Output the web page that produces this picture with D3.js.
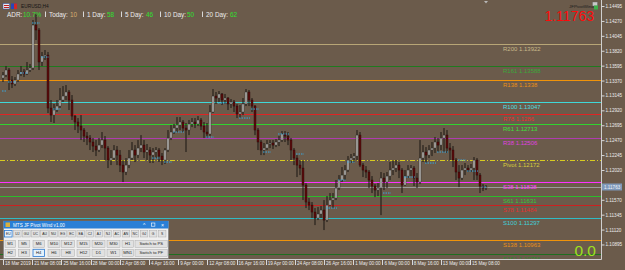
<!DOCTYPE html>
<html><head><meta charset="utf-8">
<script src="https://cdn.jsdelivr.net/npm/d3@7"></script>
<style>html,body{margin:0;padding:0;background:#6b5b4b;overflow:hidden}svg{display:block}text{font-family:"Liberation Sans",Arial,sans-serif}</style>
</head><body><svg id="c" width="625" height="270"></svg>
<script>
// ---------------- DATA ----------------
const symbol = "EURUSD,H4";
const currentPrice = 1.11763;
const opens = [1.13408,1.13453,1.13529,1.13378,1.13318,1.13378,1.13469,1.13499,1.13469,1.13529,
1.13559,1.14208,1.14133,1.13650,1.13740,1.13755,1.12955,1.12849,1.12925,1.12985,
1.13076,1.13136,1.13197,1.13076,1.12834,1.12744,1.12683,1.12623,1.12532,1.12502,
1.12442,1.12381,1.12321,1.12396,1.12472,1.12351,1.12170,1.12200,1.12321,1.12245,
1.12094,1.11989,1.12094,1.12200,1.12321,1.12245,1.12351,1.12396,1.12291,1.12321,
1.12245,1.12291,1.12321,1.12230,1.12170,1.12321,1.12502,1.12593,1.12653,1.12698,
1.12744,1.12653,1.12623,1.12714,1.12744,1.12714,1.12774,1.12683,1.12593,1.12563,
1.12895,1.13136,1.13106,1.13167,1.13076,1.13106,1.13016,1.13046,1.12985,1.12865,
1.12895,1.13016,1.13197,1.13076,1.12985,1.12623,1.12442,1.12321,1.12351,1.12412,
1.12427,1.12396,1.12442,1.12472,1.12563,1.12532,1.12472,1.12321,1.12200,1.12094,
1.12049,1.11792,1.11536,1.11490,1.11385,1.11294,1.11355,1.11415,1.11264,1.11490,
1.11566,1.11596,1.11747,1.11868,1.11943,1.12019,1.12170,1.12200,1.12230,1.12547,
1.12094,1.12019,1.11989,1.11868,1.11777,1.11717,1.11747,1.11898,1.11838,1.11928,
1.12019,1.12049,1.12094,1.12019,1.11792,1.11928,1.12019,1.12049,1.11898,1.11838,
1.12200,1.12291,1.12245,1.12321,1.12351,1.12442,1.12396,1.12502,1.12547,1.12351,
1.12321,1.12170,1.11989,1.11898,1.12019,1.12049,1.12019,1.12049,1.12170,1.11943,
1.11777,1.11747];
const highs = [1.13499,1.13589,1.13559,1.13438,1.13423,1.13529,1.13589,1.13544,1.13650,1.13620,
1.14284,1.14375,1.14163,1.13801,1.13831,1.13801,1.13076,1.13016,1.13076,1.13257,
1.13287,1.13302,1.13227,1.13151,1.12849,1.12804,1.12849,1.12653,1.12593,1.12547,
1.12502,1.12472,1.12502,1.12593,1.12532,1.12381,1.12321,1.12396,1.12381,1.12321,
1.12170,1.12200,1.12321,1.12442,1.12396,1.12472,1.12547,1.12472,1.12412,1.12366,
1.12351,1.12366,1.12351,1.12276,1.12351,1.12623,1.12698,1.12714,1.12819,1.12819,
1.12774,1.12729,1.12774,1.12804,1.12804,1.12834,1.12804,1.12744,1.12729,1.13000,
1.13242,1.13197,1.13212,1.13182,1.13167,1.13121,1.13091,1.13076,1.13016,1.13000,
1.13106,1.13242,1.13227,1.13106,1.13000,1.12653,1.12472,1.12427,1.12472,1.12472,
1.12472,1.12487,1.12532,1.12608,1.12608,1.12593,1.12502,1.12351,1.12245,1.12170,
1.12170,1.11823,1.11596,1.11536,1.11445,1.11460,1.11475,1.11566,1.11626,1.11672,
1.11672,1.11868,1.11943,1.12064,1.12094,1.12230,1.12261,1.12276,1.12623,1.12593,
1.12125,1.12079,1.12019,1.11928,1.11808,1.11823,1.11989,1.11974,1.11989,1.12140,
1.12170,1.12170,1.12140,1.12049,1.12019,1.12094,1.12094,1.12079,1.11974,1.12472,
1.12396,1.12366,1.12396,1.12442,1.12517,1.12502,1.12593,1.12653,1.12623,1.12427,
1.12381,1.12200,1.12094,1.12094,1.12125,1.12094,1.12110,1.12215,1.12200,1.11974,
1.11808,1.11792];
const lows = [1.13348,1.13423,1.13227,1.13257,1.13287,1.13348,1.13438,1.13423,1.13453,1.13499,
1.13529,1.13982,1.13529,1.13589,1.13680,1.12880,1.12744,1.12729,1.12895,1.12955,
1.13046,1.13076,1.12925,1.12774,1.12623,1.12578,1.12472,1.12442,1.12396,1.12321,
1.12291,1.12230,1.12291,1.12351,1.12170,1.12049,1.12094,1.12170,1.12094,1.11989,
1.11838,1.11943,1.12049,1.12170,1.12140,1.12200,1.12291,1.12200,1.12170,1.12125,
1.12125,1.12200,1.12140,1.12094,1.12110,1.12291,1.12472,1.12563,1.12593,1.12623,
1.12593,1.12291,1.12547,1.12668,1.12653,1.12683,1.12623,1.12502,1.12502,1.12532,
1.12880,1.13016,1.13046,1.13000,1.13016,1.12925,1.12955,1.12895,1.12804,1.12804,
1.12849,1.12985,1.12985,1.12895,1.12547,1.12321,1.12245,1.12245,1.12321,1.12351,
1.12336,1.12366,1.12381,1.12442,1.12442,1.12396,1.12170,1.12094,1.11913,1.11943,
1.11566,1.11445,1.11415,1.11294,1.11188,1.11264,1.11294,1.11113,1.11234,1.11475,
1.11445,1.11566,1.11717,1.11838,1.11868,1.11989,1.12125,1.12140,1.12170,1.12064,
1.11913,1.11898,1.11747,1.11672,1.11611,1.11626,1.11339,1.11717,1.11747,1.11868,
1.11943,1.11989,1.11898,1.11672,1.11777,1.11898,1.11928,1.11777,1.11747,1.11808,
1.12140,1.12125,1.12200,1.12230,1.12276,1.12291,1.12321,1.12291,1.12276,1.12170,
1.12064,1.11868,1.11762,1.11868,1.11943,1.11989,1.11989,1.11868,1.11868,1.11672,
1.11702,1.11717];
const closes = [1.13453,1.13529,1.13378,1.13318,1.13378,1.13469,1.13499,1.13469,1.13529,1.13559,
1.14208,1.14133,1.13650,1.13740,1.13755,1.12955,1.12849,1.12925,1.12985,1.13076,
1.13136,1.13197,1.13076,1.12834,1.12744,1.12683,1.12623,1.12532,1.12502,1.12442,
1.12381,1.12321,1.12396,1.12472,1.12351,1.12170,1.12200,1.12321,1.12245,1.12094,
1.11989,1.12094,1.12200,1.12321,1.12245,1.12351,1.12396,1.12291,1.12321,1.12245,
1.12291,1.12321,1.12230,1.12170,1.12321,1.12502,1.12593,1.12653,1.12698,1.12744,
1.12653,1.12623,1.12714,1.12744,1.12714,1.12774,1.12683,1.12593,1.12563,1.12895,
1.13136,1.13106,1.13167,1.13076,1.13106,1.13016,1.13046,1.12985,1.12865,1.12895,
1.13016,1.13197,1.13076,1.12985,1.12623,1.12442,1.12321,1.12351,1.12412,1.12427,
1.12396,1.12442,1.12472,1.12563,1.12532,1.12472,1.12321,1.12200,1.12094,1.12049,
1.11792,1.11536,1.11490,1.11385,1.11294,1.11355,1.11415,1.11264,1.11490,1.11566,
1.11596,1.11747,1.11868,1.11943,1.12019,1.12170,1.12200,1.12230,1.12547,1.12094,
1.12019,1.11989,1.11868,1.11777,1.11717,1.11747,1.11898,1.11838,1.11928,1.12019,
1.12049,1.12094,1.12019,1.11792,1.11928,1.12019,1.12049,1.11898,1.11838,1.12200,
1.12291,1.12245,1.12321,1.12351,1.12442,1.12396,1.12502,1.12547,1.12351,1.12321,
1.12170,1.11989,1.11898,1.12019,1.12049,1.12019,1.12049,1.12170,1.11943,1.11777,
1.11747,1.11763];
// small dotted markers drawn by the indicator (bar index from/to, price)
const markFrom  = [0,2,6,10,13,17,50,54,57,68,72,79,83,87,92,98,108,112,115,127,134,141,145,152,155,160];
const markTo    = [1,4,8,12,15,19,52,56,60,70,74,82,85,89,95,100,111,114,117,129,137,144,148,154,158,161];
const markPrice = [1.13212,1.13348,1.13484,1.14239,1.13725,1.12940,1.12200,1.12140,1.12593,1.12517,1.13031,1.12804,1.12940,1.12291,1.12563,1.12261,1.11445,1.11868,1.12140,1.11672,1.11913,1.12125,1.12291,1.12170,1.12004,1.11762];
// pivot levels
const levelNames  = ["R200","R161","R138","R100","R78","R61","R38","Pivot","S38","S61","S78","S100","S138","S161"];
const levelValues = [1.13922,1.13588,1.13380,1.13047,1.12860,1.12713,1.12506,1.12172,1.11838,1.11631,1.11484,1.11297,1.10963,1.10756];
// axes
const priceTicks = [1.14495,1.14270,1.14045,1.13820,1.13595,1.13370,1.13145,1.12920,1.12695,1.12470,1.12245,1.12020,1.11570,1.11345,1.11120,1.10895];
const timeLabels = ["18 Mar 2019","21 Mar 08:00","25 Mar 16:00","28 Mar 00:00","2 Apr 08:00","4 Apr 16:00","9 Apr 00:00","12 Apr 08:00","16 Apr 16:00","19 Apr 00:00","24 Apr 08:00","26 Apr 16:00","1 May 00:00","6 May 00:00","8 May 16:00","13 May 00:00","15 May 08:00"];
// header stats
const adrItems  = ["ADR:","Today:","1 Day:","5 Day:","10 Day:","20 Day:"];
const adrValues = ["10.7%","10","58","46","50","62"];
const cornerValue = "0.0";
// panel buttons
const pairButtons = ["EU","UJ","GU","UC","AU","NU","EG","EC","EA","CJ","AJ","NJ","AC","AN","NC","GJ","G","S"];
const tfRow1 = ["M1","M5","M6","M10","M12","M15","M20","M30","H1","Switch to PS"];
const tfRow2 = ["H2","H3","H4","H6","H8","H12","D1","W1","MN1","Switch to PF"];

// ---------------- STYLE ----------------
const BG = "#6b5b4b";
const levelColors = ["#b8a676","#1f7a1f","#f0930a","#3fd8d8","#e02424","#2fd42f","#b03cb0","#d8cc20","#ff30ff","#2cbc2c","#cc2020","#2fbcc4","#f0930a","#1f6e1f"];
const labelColors = ["#c9b98a","#3aa83a","#e8901a","#50dce0","#e83030","#3ce03c","#e040e0","#d8cc40","#ff40ff","#38c838","#e03030","#40d0d8","#e8901a","#2c882c"];

const svg = d3.select("#c");
const plotR = 601, plotB = 259;
svg.append("rect").attr("width",625).attr("height",270).attr("fill",BG);
svg.append("defs").append("clipPath").attr("id","clip").append("rect").attr("width",plotR).attr("height",plotB);

const x = d3.scaleLinear().domain([0, closes.length-1]).range([2, 485]);
const y = d3.scaleLinear().domain([1.10676, 1.14586]).range([plotB, 0]);

const g = svg.append("g").attr("clip-path","url(#clip)");

// level lines
g.selectAll("line.lvl").data(levelValues).join("line").attr("class","lvl")
  .attr("x1",0).attr("x2",plotR)
  .attr("y1",d=>Math.round(y(d))+0.5).attr("y2",d=>Math.round(y(d))+0.5)
  .attr("stroke",(d,i)=>levelColors[i]).attr("stroke-width",(d,i)=>levelNames[i]==="Pivot"?1.2:1.1)
  .attr("stroke-dasharray",(d,i)=>levelNames[i]==="Pivot"?"5,2,1,2":null);

// current price line
g.append("line").attr("x1",0).attr("x2",plotR)
  .attr("y1",Math.round(y(currentPrice))+0.5).attr("y2",Math.round(y(currentPrice))+0.5)
  .attr("stroke","#9c9c9c").attr("stroke-width",1);

// candles
const idx = d3.range(closes.length);
g.selectAll("line.wick").data(idx).join("line").attr("class","wick")
  .attr("x1",i=>x(i)+1).attr("x2",i=>x(i)+1)
  .attr("y1",i=>y(highs[i])).attr("y2",i=>y(lows[i]))
  .attr("stroke","#1b1712").attr("stroke-width",1);
g.selectAll("rect.body").data(idx).join("rect").attr("class","body")
  .attr("x",i=>x(i)).attr("width",2)
  .attr("y",i=>y(Math.max(opens[i],closes[i])))
  .attr("height",i=>Math.max(1,Math.abs(y(opens[i])-y(closes[i]))))
  .attr("fill",i=>closes[i]>=opens[i]?"#b4b2ae":"#5a0c0c")
  .attr("stroke",i=>closes[i]>=opens[i]?"#2a2a2a":"#2a0606").attr("stroke-width",0.4);

// indicator dotted markers
g.selectAll("line.mk").data(markPrice).join("line").attr("class","mk")
  .attr("x1",(d,i)=>x(markFrom[i])).attr("x2",(d,i)=>x(markTo[i])+2)
  .attr("y1",d=>y(d)).attr("y2",d=>y(d))
  .attr("stroke","#38a8e0").attr("stroke-width",1).attr("stroke-dasharray","1.5,1");

// level labels
const fmtLvl = v => String(+v.toFixed(5));
g.selectAll("text.lvl").data(levelValues).join("text").attr("class","lvl")
  .attr("x",503).attr("y",d=>y(d)+7)
  .attr("font-size",6).attr("fill",(d,i)=>labelColors[i])
  .text((d,i)=>levelNames[i]+" "+fmtLvl(d));

// right axis
svg.append("line").attr("x1",plotR+0.5).attr("x2",plotR+0.5).attr("y1",0).attr("y2",plotB+0.5).attr("stroke","#cfcfcf");
const yAxis = d3.axisRight(y).tickValues(priceTicks).tickFormat(d3.format(".5f")).tickSize(3).tickPadding(1);
const ya = svg.append("g").attr("transform",`translate(${plotR+0.5},0)`).call(yAxis);
ya.select(".domain").remove();
ya.selectAll("line").attr("stroke","#d8d8d8");
ya.selectAll("text").attr("fill","#ececec").attr("font-size",4.6).attr("font-family","Liberation Sans, Arial");
// current price tag
const cy = y(currentPrice);
svg.append("rect").attr("x",plotR+1).attr("y",cy-3.5).attr("width",20).attr("height",7).attr("fill","#7f98b8");
svg.append("text").attr("x",plotR+3).attr("y",cy+1.8).attr("font-size",4.6).attr("fill","#eef3fa").text(d3.format(".5f")(currentPrice));

// bottom axis
svg.append("line").attr("x1",0).attr("x2",plotR+0.5).attr("y1",plotB+0.5).attr("y2",plotB+0.5).attr("stroke","#cfcfcf");
const xt = d3.scalePoint().domain(timeLabels).range([3, 470]);
const xa = svg.append("g");
xa.selectAll("line").data(timeLabels).join("line")
  .attr("x1",d=>Math.round(xt(d))+0.5).attr("x2",d=>Math.round(xt(d))+0.5)
  .attr("y1",plotB+1).attr("y2",plotB+6).attr("stroke","#d8d8d8");
xa.selectAll("text").data(timeLabels).join("text")
  .attr("x",d=>xt(d)+2).attr("y",plotB+5.5).attr("font-size",4.6).attr("fill","#ececec").text(d=>d);

// top-left header
svg.append("rect").attr("x",3).attr("y",3.5).attr("width",6.5).attr("height",5.5).attr("fill","#e8e8f0").attr("stroke","#3050a0").attr("stroke-width",0.5);
svg.append("rect").attr("x",4).attr("y",5).attr("width",5).attr("height",1).attr("fill","#c02020");
svg.append("rect").attr("x",4).attr("y",7).attr("width",5).attr("height",1).attr("fill","#c02020");
svg.append("rect").attr("x",11).attr("y",3.5).attr("width",6).attr("height",5.5).attr("fill","#2848b8");
svg.append("rect").attr("x",14).attr("y",3.5).attr("width",3).attr("height",5.5).attr("fill","#d02828");
svg.append("text").attr("x",21).attr("y",8).attr("font-size",4.8).attr("fill","#141414").text(symbol);

const adrLabelX = [7,49,87,125,164,206];
const adrValueX = [23,70,107,146,187,230];
const adrSepX = [45,83,121,160,202];
const hdr = svg.append("g").attr("font-size",6.4);
hdr.selectAll("text.al").data(adrItems).join("text").attr("class","al")
  .attr("x",(d,i)=>adrLabelX[i]).attr("y",16.5).attr("fill","#ececec").text(d=>d);
hdr.selectAll("text.av").data(adrValues).join("text").attr("class","av")
  .attr("x",(d,i)=>adrValueX[i]).attr("y",16.5).attr("fill",(d,i)=>i===1?"#d8b070":"#2ee02e").text(d=>d);
hdr.selectAll("rect.sep").data(adrSepX).join("rect").attr("class","sep")
  .attr("x",d=>d).attr("y",11.5).attr("width",1).attr("height",5.5).attr("fill","#d8d8d8");

// top-right
svg.append("path").attr("d","M484,1 L488,1 L486,3.5 Z").attr("fill","#b8b8b8");
svg.append("text").attr("x",569).attr("y",8.3).attr("font-size",4.4).attr("fill","#202020").text("JFPivotWind");
svg.append("rect").attr("x",592.5).attr("y",2).attr("width",5).attr("height",4).attr("fill","#c8c8c8").attr("stroke","#606060").attr("stroke-width",0.4);
svg.append("rect").attr("x",594).attr("y",5.5).attr("width",4).attr("height",4).attr("fill","#3cb04a");
svg.append("text").attr("x",594).attr("y",21).attr("font-size",14).attr("text-anchor","end").attr("fill","#ff0a0a").text(d3.format(".5f")(currentPrice));

// bottom-right
svg.append("text").attr("x",596).attr("y",255.5).attr("font-size",15.5).attr("text-anchor","end").attr("fill","#9ee020").text(cornerValue);

// panel
const P = svg.append("g");
P.append("rect").attr("x",3.5).attr("y",221).attr("width",165).attr("height",37.5).attr("fill","#f0f0f0").attr("stroke","#7a7a7a").attr("stroke-width",0.6);
P.append("rect").attr("x",3.5).attr("y",221).attr("width",165).attr("height",7.5).attr("fill","#2a7fd6");
P.append("rect").attr("x",5.5).attr("y",222.5).attr("width",4.5).attr("height",4.5).attr("fill","#d8b040");
P.append("text").attr("x",13).attr("y",226.6).attr("font-size",4.6).attr("fill","#ffffff").text("MTS JF Pivot Wind v1.00");
P.append("text").attr("x",143).attr("y",227.2).attr("font-size",5).attr("fill","#fff").text("^");
P.append("rect").attr("x",151.5).attr("y",223).attr("width",3.4).attr("height",3.2).attr("fill","none").attr("stroke","#fff").attr("stroke-width",0.6);
P.append("text").attr("x",161).attr("y",227.2).attr("font-size",5.2).attr("fill","#fff").text("×");

function buttons(labels, y0, h, xs, ws, selected, fs){
  const b = P.append("g");
  b.selectAll("rect").data(labels).join("rect")
    .attr("x",(d,i)=>xs[i]).attr("y",y0).attr("width",(d,i)=>ws[i]).attr("height",h)
    .attr("fill",d=>d===selected?"#e5f1fb":"#e1e1e1")
    .attr("stroke",d=>d===selected?"#2a78d0":"#adadad").attr("stroke-width",d=>d===selected?0.8:0.5);
  b.selectAll("text").data(labels).join("text")
    .attr("x",(d,i)=>xs[i]+ws[i]/2).attr("y",y0+h/2+fs*0.36)
    .attr("text-anchor","middle").attr("font-size",fs).attr("fill","#1a1a1a").text(d=>d);
}
const r1x = pairButtons.map((d,i)=>4.5+i*9.05);
buttons(pairButtons, 230.5, 6.5, r1x, pairButtons.map(()=>7.6), "EU", 3.4);
const tfx = [5,18.3,33,48,61.7,77,92,107,122,135];
const tfw = [10.5,11.5,11.5,12,13,13,13,13,11.5,32.5];
buttons(tfRow1, 240.3, 7.2, tfx, tfw, null, 4.2);
buttons(tfRow2, 249.3, 7.2, tfx, tfw, "H4", 4.2);
</script></body></html>
